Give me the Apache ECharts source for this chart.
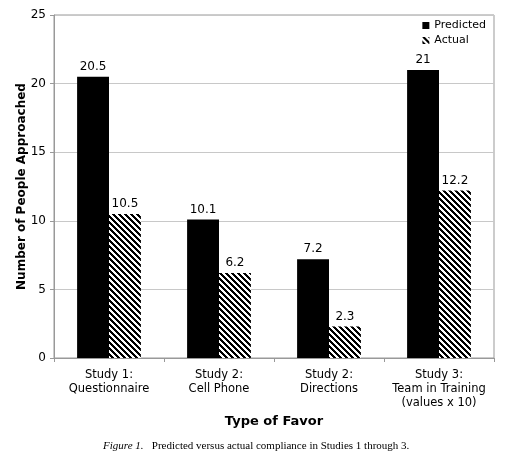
<!DOCTYPE html>
<html>
<head>
<meta charset="UTF-8">
<title>Predicted versus actual compliance</title>
<script src="https://cdn.jsdelivr.net/npm/echarts@6/dist/echarts.min.js"></script>
<style>
  html, body { margin: 0; padding: 0; background: #fff; }
  #chart { width: 531px; height: 458px; }
</style>
</head>
<body>
<div id="chart"></div>
<script>
// data
const categories = [
  'Study 1:\nQuestionnaire',
  'Study 2:\nCell Phone',
  'Study 2:\nDirections',
  'Study 3:\nTeam in Training\n(values x 10)'
];
const predicted = [20.5, 10.1, 7.2, 21];
const actual = [10.5, 6.2, 2.3, 12.2];
const yTicks = { min: 0, max: 25, interval: 5 };

// diagonal hatch "\" for the Actual bars
function makeHatch(size, width) {
  const c = document.createElement('canvas');
  c.width = size; c.height = size;
  const ctx = c.getContext('2d');
  const img = ctx.createImageData(size, size);
  for (let y = 0; y < size; y++) {
    for (let x = 0; x < size; x++) {
      const k = ((x - y) % size + size) % size;
      const i = (y * size + x) * 4;
      const on = k < width;
      img.data[i] = on ? 0 : 255;
      img.data[i + 1] = on ? 0 : 255;
      img.data[i + 2] = on ? 0 : 255;
      img.data[i + 3] = 255;
    }
  }
  ctx.putImageData(img, 0, 0);
  return c;
}
const hatch = { image: makeHatch(6, 3), repeat: 'repeat' };

const font = 'DejaVu Sans';
const chart = echarts.init(document.getElementById('chart'));

chart.setOption({
  animation: false,
  textStyle: { fontFamily: font },
  grid: {
    left: 54, right: 37, top: 15, bottom: 100,
    outerBoundsMode: 'none',
    containLabel: false,
    show: true, borderColor: '#999', borderWidth: 1
  },
  legend: {
    orient: 'vertical',
    right: 40, top: 15,
    itemWidth: 7, itemHeight: 7, itemGap: 4,
    textStyle: { fontSize: 11, color: '#000', fontFamily: font },
    data: [
      { name: 'Predicted', icon: 'rect' },
      { name: 'Actual', icon: 'rect' }
    ]
  },
  xAxis: {
    type: 'category',
    data: categories,
    name: 'Type of Favor',
    nameLocation: 'middle',
    nameGap: 57,
    nameMoveOverlap: false,
    nameTextStyle: { fontSize: 13, fontWeight: 'bold', color: '#000', fontFamily: font },
    axisLine: { lineStyle: { color: '#999' } },
    axisTick: { show: true, length: 4, lineStyle: { color: '#999' } },
    axisLabel: {
      interval: 0, fontSize: 11.5, color: '#000', lineHeight: 14, margin: 10,
      align: 'center', fontFamily: font
    }
  },
  yAxis: {
    type: 'value',
    min: yTicks.min, max: yTicks.max, interval: yTicks.interval,
    name: 'Number of People Approached',
    nameLocation: 'middle',
    nameGap: 26,
    nameMoveOverlap: false,
    nameTextStyle: { fontSize: 12, fontWeight: 'bold', color: '#000', fontFamily: font },
    axisLine: { show: true, lineStyle: { color: '#999' } },
    axisTick: { show: true, length: 4, lineStyle: { color: '#999' } },
    axisLabel: { fontSize: 12, color: '#000', margin: 8, fontFamily: font },
    splitLine: { lineStyle: { color: '#c8c8c8' } }
  },
  series: [
    {
      name: 'Predicted',
      type: 'bar',
      data: predicted,
      barGap: '0%',
      barCategoryGap: '42%',
      itemStyle: { color: '#000' },
      label: { show: true, position: 'top', distance: 4, fontSize: 12, color: '#000', fontFamily: font }
    },
    {
      name: 'Actual',
      type: 'bar',
      data: actual,
      itemStyle: { color: hatch },
      label: { show: true, position: 'top', distance: 4, fontSize: 12, color: '#000', fontFamily: font }
    }
  ],
  graphic: [
    {
      type: 'text',
      left: 103, top: 441,
      style: {
        rich: {
          i: { fontFamily: 'Liberation Serif', fontStyle: 'italic', fontSize: 11, fill: '#000' },
          n: { fontFamily: 'Liberation Serif', fontSize: 11, fill: '#000' }
        },
        text: '{i|Figure 1.}{n|   Predicted versus actual compliance in Studies 1 through 3.}'
      }
    }
  ]
});
</script>
</body>
</html>
